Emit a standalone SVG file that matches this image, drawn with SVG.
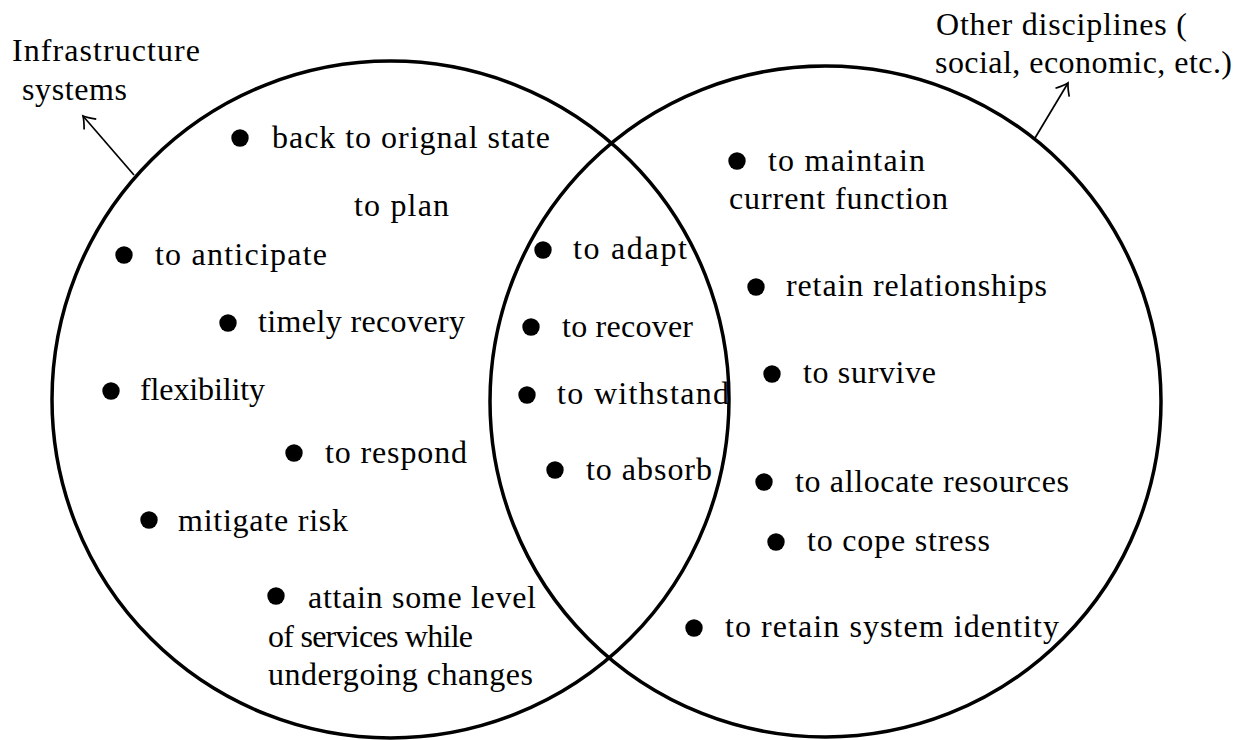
<svg xmlns="http://www.w3.org/2000/svg" width="1243" height="740" viewBox="0 0 1243 740">
<style>
text{font-family:"Liberation Serif","Times New Roman",serif;font-size:32px;font-weight:normal;fill:#000}
.c{fill:none;stroke:#000;stroke-width:3.5}
.d{fill:#000}
.a{fill:none;stroke:#000;stroke-width:1.7}
</style>
<defs>
<marker id="ah" markerUnits="userSpaceOnUse" markerWidth="24" markerHeight="24" viewBox="-14 -12 16 24" refX="0" refY="0" orient="auto">
<path d="M-11,-8 Q-4,-2 0,0 Q-4,2 -11,8" fill="none" stroke="#000" stroke-width="1.7"/>
</marker>
</defs>
<rect width="1243" height="740" fill="#fff"/>
<g id="set-infrastructure">
<circle class="c" cx="390.5" cy="399.5" r="338.5"/>
<text x="12" y="61" textLength="188">Infrastructure</text>
<text x="22" y="100" textLength="105">systems</text>
</g>
<g id="set-other">
<circle class="c" cx="825.5" cy="401.5" r="335.5"/>
<text x="936" y="35" textLength="251">Other disciplines (</text>
<text x="935" y="73" textLength="297">social, economic, etc.)</text>
</g>
<g id="connectors">
<line class="a" x1="134" y1="175" x2="83" y2="116" marker-end="url(#ah)"/>
<line class="a" x1="1035" y1="138" x2="1068" y2="83" marker-end="url(#ah)"/>
</g>
<g id="item-back"><circle class="d" cx="240" cy="138" r="8.7"/><text x="272" y="148" textLength="278">back to orignal state</text></g>
<g id="item-plan"><text x="354" y="216" textLength="95">to plan</text></g>
<g id="item-anticipate"><circle class="d" cx="124" cy="255" r="8.7"/><text x="155" y="265" textLength="172">to anticipate</text></g>
<g id="item-timely"><circle class="d" cx="228" cy="323" r="8.7"/><text x="258" y="332" textLength="207">timely recovery</text></g>
<g id="item-flex"><circle class="d" cx="111" cy="391" r="8.7"/><text x="140" y="400" textLength="125">flexibility</text></g>
<g id="item-respond"><circle class="d" cx="294" cy="453" r="8.7"/><text x="325" y="463" textLength="142">to respond</text></g>
<g id="item-mitigate"><circle class="d" cx="149" cy="520" r="8.7"/><text x="178" y="531" textLength="170">mitigate risk</text></g>
<g id="item-attain"><circle class="d" cx="276" cy="596" r="8.7"/><text x="308" y="608" textLength="228">attain some level</text><text x="268" y="647" textLength="205">of services while</text><text x="268" y="685" textLength="265">undergoing changes</text></g>
<g id="item-adapt"><circle class="d" cx="543" cy="250" r="8.7"/><text x="573" y="259" textLength="114">to adapt</text></g>
<g id="item-recover"><circle class="d" cx="531" cy="327" r="8.7"/><text x="562" y="337" textLength="131">to recover</text></g>
<g id="item-withstand"><circle class="d" cx="527" cy="395" r="8.7"/><text x="557" y="404" textLength="172">to withstand</text></g>
<g id="item-absorb"><circle class="d" cx="555" cy="470" r="8.7"/><text x="586" y="480" textLength="126">to absorb</text></g>
<g id="item-maintain"><circle class="d" cx="737" cy="161" r="8.7"/><text x="768" y="171" textLength="157">to maintain</text><text x="729" y="209" textLength="219">current function</text></g>
<g id="item-relationships"><circle class="d" cx="756" cy="287" r="8.7"/><text x="786" y="296" textLength="261">retain relationships</text></g>
<g id="item-survive"><circle class="d" cx="772" cy="374" r="8.7"/><text x="803" y="383" textLength="133">to survive</text></g>
<g id="item-allocate"><circle class="d" cx="764" cy="482" r="8.7"/><text x="795" y="492" textLength="274">to allocate resources</text></g>
<g id="item-cope"><circle class="d" cx="776" cy="542" r="8.7"/><text x="807" y="551" textLength="183">to cope stress</text></g>
<g id="item-identity"><circle class="d" cx="694" cy="628" r="8.7"/><text x="725" y="637" textLength="334">to retain system identity</text></g>
</svg>
